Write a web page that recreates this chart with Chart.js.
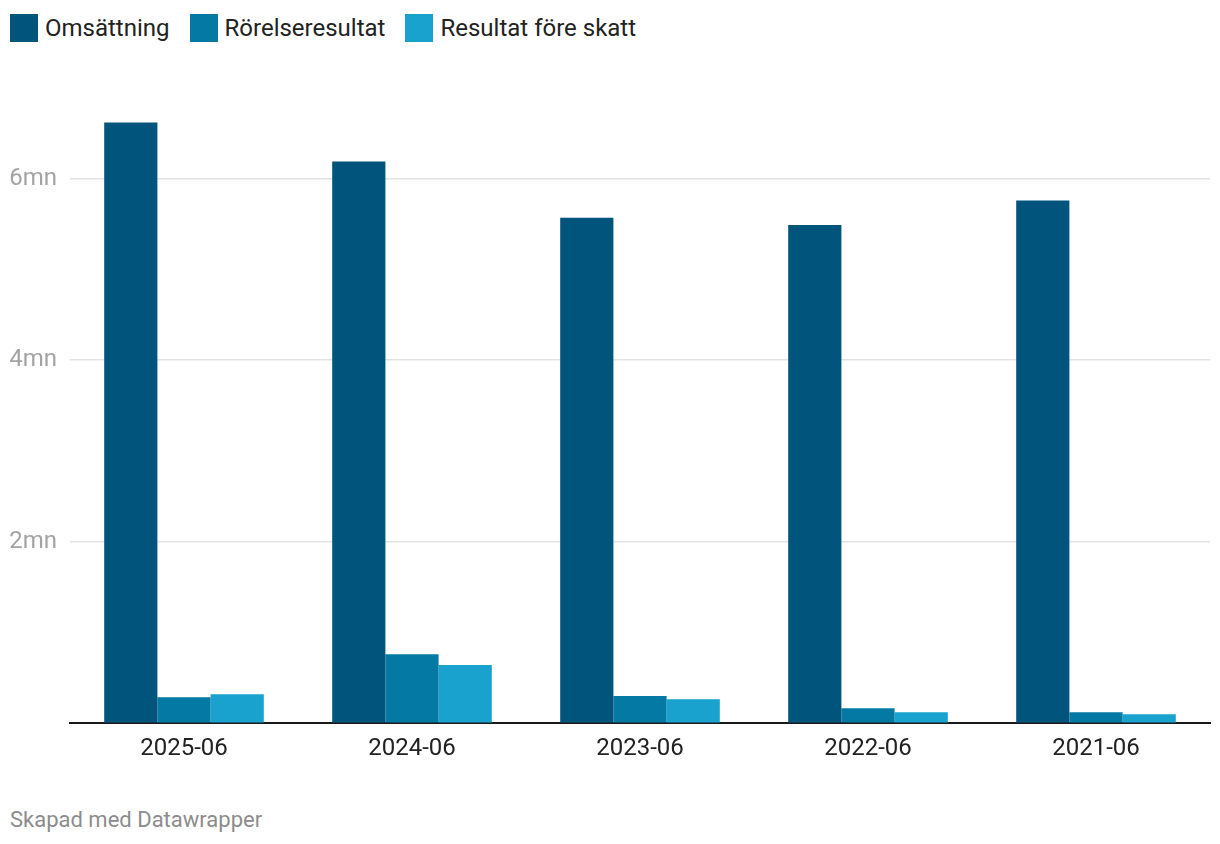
<!DOCTYPE html>
<html>
<head>
<meta charset="utf-8">
<script src="https://cdn.jsdelivr.net/npm/chart.js@4/dist/chart.umd.min.js"></script>
<style>
  html, body { margin: 0; padding: 0; background: #fff; }
  #wrap { position: relative; width: 1220px; height: 844px; font-family: Roboto, "Noto Sans", sans-serif; }
  #legend { position: absolute; left: 10px; top: 14px; display: flex; align-items: center; }
  .item { display: flex; align-items: center; margin-right: 20px; font-size: 24px; color: #222; }
  .box { width: 28px; height: 28px; margin-right: 7px; }
  #chartbox { position: absolute; left: 0; top: 0; width: 1220px; height: 774px; }
  #footer { position: absolute; left: 10px; top: 807px; font-size: 22px; color: #8c8c8c; line-height: 26px; }
</style>
</head>
<body>
<div id="wrap">
  <div id="legend"></div>
  <div id="chartbox"><canvas id="c"></canvas></div>
  <div id="footer">Skapad med Datawrapper</div>
</div>
<script>
const categories = ["2025-06", "2024-06", "2023-06", "2022-06", "2021-06"];
const seriesNames = ["Omsättning", "Rörelseresultat", "Resultat före skatt"];
const omsattning = [6620000, 6190000, 5570000, 5490000, 5760000];
const rorelseresultat = [287000, 760000, 300000, 166000, 120000];
const resultatForeSkatt = [320000, 640000, 265000, 120000, 100000];
const yTicks = [0, 2000000, 4000000, 6000000];
const colors = ["#01547c", "#0479a4", "#19a2ce"];

const seriesValues = [omsattning, rorelseresultat, resultatForeSkatt];

const legend = document.getElementById('legend');
seriesNames.forEach((n, i) => {
  const it = document.createElement('div');
  it.className = 'item';
  const b = document.createElement('div');
  b.className = 'box';
  b.style.background = colors[i];
  const t = document.createElement('span');
  t.textContent = n;
  it.appendChild(b); it.appendChild(t);
  legend.appendChild(it);
});

new Chart(document.getElementById('c'), {
  type: 'bar',
  data: {
    labels: categories,
    datasets: seriesNames.map((n, i) => ({
      label: n,
      data: seriesValues[i],
      backgroundColor: colors[i],
      borderWidth: 0,
      categoryPercentage: 0.70,
      barPercentage: 1.0
    }))
  },
  options: {
    responsive: true,
    maintainAspectRatio: false,
    animation: false,
    layout: { padding: { top: 88, right: 10, left: 0, bottom: 0 } },
    plugins: { legend: { display: false }, tooltip: { enabled: false } },
    scales: {
      x: {
        z: 1,
        grid: { display: false, drawTicks: false },
        border: { display: true, color: '#1a1a1a', width: 2 },
        ticks: { color: '#222', font: { family: 'Roboto', size: 24 }, padding: 11 }
      },
      y: {
        min: 0,
        max: 7000000,
        afterBuildTicks: (s) => { s.ticks = yTicks.map(v => ({ value: v })); },
        afterFit: (s) => { s.width = 70; },
        grid: { color: '#e2e2e2', lineWidth: 1.5, drawTicks: false },
        border: { display: false },
        ticks: {
          color: '#a3a3a3',
          font: { family: 'Roboto', size: 24 },
          padding: 13,
          callback: (v) => v === 0 ? '' : (v / 1000000) + 'mn'
        }
      }
    }
  }
});
</script>
</body>
</html>
